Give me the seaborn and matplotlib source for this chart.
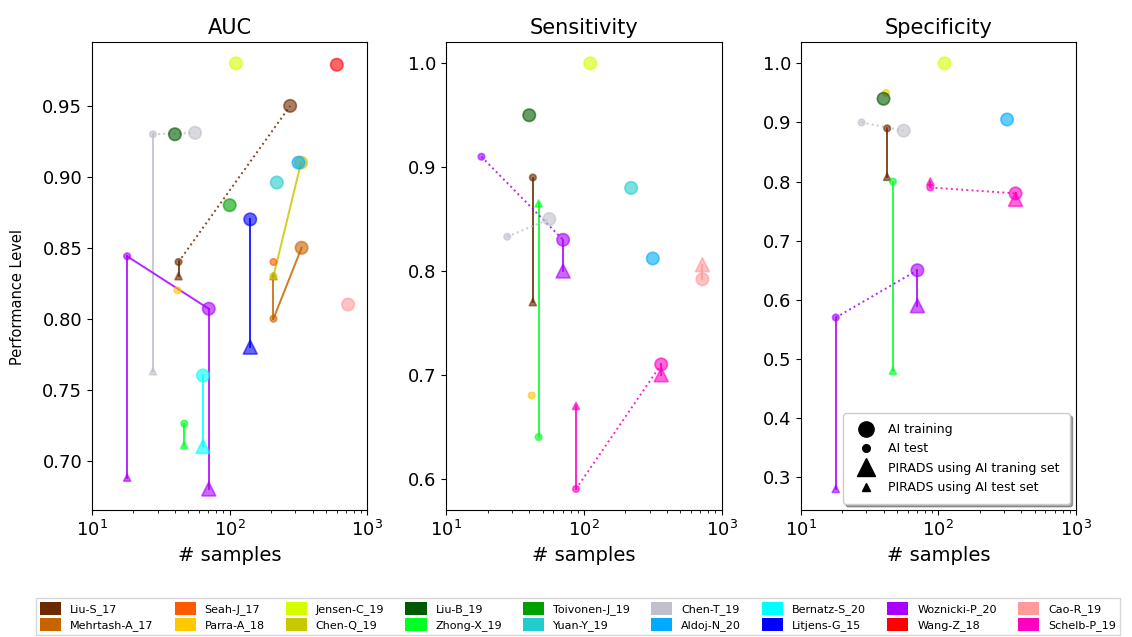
import numpy as np
import pandas as pd
import matplotlib
matplotlib.use('Agg')
import matplotlib.pyplot as plt
import seaborn as sns
from matplotlib.lines import Line2D
from matplotlib.patches import Patch

# studies, legend colours and sample sizes (training / test cohorts)
studies = ['Liu-S_17', 'Mehrtash-A_17', 'Seah-J_17', 'Parra-A_18', 'Jensen-C_19', 'Chen-Q_19',
           'Liu-B_19', 'Zhong-X_19', 'Toivonen-J_19', 'Yuan-Y_19', 'Chen-T_19', 'Aldoj-N_20',
           'Bernatz-S_20', 'Litjens-G_15', 'Woznicki-P_20', 'Wang-Z_18', 'Cao-R_19', 'Schelb-P_19']
colors = ['#6b2a00', '#c86400', '#ff5a00', '#ffc800', '#d4ff00', '#c8c800',
          '#005a00', '#00ff22', '#00a000', '#22cccc', '#c0c0cc', '#00aaff',
          '#00ffff', '#0000ff', '#aa00ff', '#ff0000', '#ff9a9a', '#ff00c0']
n_train = [275, 333, np.nan, np.nan, 111, 330,
           40, np.nan, 100, 220, 56, 316,
           64, 141, 70.5, 600, 725, 364]
n_test = [42.5, 208, 208, 41.7, np.nan, 208,
          np.nan, 46.8, np.nan, np.nan, 27.7, np.nan,
          np.nan, np.nan, 18, np.nan, np.nan, 87.5]

# T = AI training, t = AI test, P = PIRADS on training set, p = PIRADS on test set
auc_pts = [('Liu-S_17', 'T', 0.95), ('Liu-S_17', 't', 0.84), ('Liu-S_17', 'p', 0.83),
           ('Mehrtash-A_17', 'T', 0.85), ('Mehrtash-A_17', 't', 0.80), ('Mehrtash-A_17', 'p', 0.83),
           ('Seah-J_17', 't', 0.84), ('Parra-A_18', 't', 0.82), ('Jensen-C_19', 'T', 0.98),
           ('Chen-Q_19', 'T', 0.91), ('Chen-Q_19', 't', 0.83), ('Liu-B_19', 'T', 0.93),
           ('Zhong-X_19', 't', 0.726), ('Zhong-X_19', 'p', 0.711), ('Toivonen-J_19', 'T', 0.88),
           ('Yuan-Y_19', 'T', 0.896), ('Chen-T_19', 't', 0.93), ('Chen-T_19', 'T', 0.931),
           ('Chen-T_19', 'p', 0.763), ('Aldoj-N_20', 'T', 0.91), ('Bernatz-S_20', 'T', 0.76),
           ('Bernatz-S_20', 'P', 0.71), ('Litjens-G_15', 'T', 0.87), ('Litjens-G_15', 'P', 0.78),
           ('Woznicki-P_20', 't', 0.844), ('Woznicki-P_20', 'p', 0.688), ('Woznicki-P_20', 'T', 0.807),
           ('Woznicki-P_20', 'P', 0.68), ('Wang-Z_18', 'T', 0.979), ('Cao-R_19', 'T', 0.81)]
auc_links = [('Liu-S_17', 't', 'T', ':'), ('Liu-S_17', 't', 'p', '-'),
             ('Mehrtash-A_17', 't', 'T', '-'), ('Mehrtash-A_17', 't', 'p', '-'),
             ('Chen-Q_19', 't', 'T', '-'), ('Zhong-X_19', 't', 'p', '-'),
             ('Chen-T_19', 't', 'T', ':'), ('Chen-T_19', 't', 'p', '-'),
             ('Bernatz-S_20', 'T', 'P', '-'), ('Litjens-G_15', 'T', 'P', '-'),
             ('Woznicki-P_20', 't', 'T', '-'), ('Woznicki-P_20', 't', 'p', '-'),
             ('Woznicki-P_20', 'T', 'P', '-')]

sens_pts = [('Liu-S_17', 't', 0.89), ('Liu-S_17', 'p', 0.77), ('Parra-A_18', 't', 0.68),
            ('Jensen-C_19', 'T', 1.0), ('Liu-B_19', 'T', 0.95), ('Zhong-X_19', 't', 0.64),
            ('Zhong-X_19', 'p', 0.865), ('Yuan-Y_19', 'T', 0.88), ('Chen-T_19', 't', 0.833),
            ('Chen-T_19', 'T', 0.85), ('Aldoj-N_20', 'T', 0.812), ('Woznicki-P_20', 't', 0.91),
            ('Woznicki-P_20', 'T', 0.83), ('Woznicki-P_20', 'P', 0.80), ('Cao-R_19', 'T', 0.792),
            ('Cao-R_19', 'P', 0.806), ('Schelb-P_19', 't', 0.59), ('Schelb-P_19', 'p', 0.67),
            ('Schelb-P_19', 'T', 0.71), ('Schelb-P_19', 'P', 0.70)]
sens_links = [('Liu-S_17', 't', 'p', '-'), ('Zhong-X_19', 't', 'p', '-'),
              ('Chen-T_19', 't', 'T', ':'), ('Woznicki-P_20', 't', 'T', ':'),
              ('Woznicki-P_20', 'T', 'P', '-'), ('Cao-R_19', 'T', 'P', '-'),
              ('Schelb-P_19', 't', 'p', '-'), ('Schelb-P_19', 't', 'T', ':'),
              ('Schelb-P_19', 'T', 'P', '-')]

spec_pts = [('Liu-S_17', 't', 0.89), ('Liu-S_17', 'p', 0.808), ('Parra-A_18', 't', 0.95),
            ('Jensen-C_19', 'T', 1.0), ('Liu-B_19', 'T', 0.94), ('Zhong-X_19', 't', 0.80),
            ('Zhong-X_19', 'p', 0.48), ('Chen-T_19', 't', 0.90), ('Chen-T_19', 'T', 0.886),
            ('Aldoj-N_20', 'T', 0.905), ('Woznicki-P_20', 't', 0.57), ('Woznicki-P_20', 'p', 0.28),
            ('Woznicki-P_20', 'T', 0.65), ('Woznicki-P_20', 'P', 0.59), ('Schelb-P_19', 't', 0.79),
            ('Schelb-P_19', 'p', 0.80), ('Schelb-P_19', 'T', 0.78), ('Schelb-P_19', 'P', 0.77)]
spec_links = [('Liu-S_17', 't', 'p', '-'), ('Zhong-X_19', 't', 'p', '-'),
              ('Chen-T_19', 't', 'T', ':'), ('Woznicki-P_20', 't', 'T', ':'),
              ('Woznicki-P_20', 't', 'p', '-'), ('Woznicki-P_20', 'T', 'P', '-'),
              ('Schelb-P_19', 't', 'T', ':'), ('Schelb-P_19', 't', 'p', '-'),
              ('Schelb-P_19', 'T', 'P', '-')]

kind_names = {'T': 'AI training', 't': 'AI test',
              'P': 'PIRADS using AI traning set', 'p': 'PIRADS using AI test set'}
palette = dict(zip(studies, colors))
ntr = dict(zip(studies, n_train))
nte = dict(zip(studies, n_test))


def make_frame(pts):
    df = pd.DataFrame(pts, columns=['study', 'kind', 'value'])
    df['n'] = [ntr[s] if k in 'TP' else nte[s] for s, k in zip(df.study, df.kind)]
    return df


def draw_panel(ax, pts, links, title):
    df = make_frame(pts)
    for s, a, b, ls in links:
        sub = df[df.study == s].set_index('kind')
        ax.plot([sub.loc[a, 'n'], sub.loc[b, 'n']], [sub.loc[a, 'value'], sub.loc[b, 'value']],
                ls=ls, color=palette[s], lw=1.4, alpha=0.85, zorder=1)
    sns.scatterplot(data=df, x='n', y='value', hue='study', style='kind', size='kind',
                    palette=palette, markers={'T': 'o', 't': 'o', 'P': '^', 'p': '^'},
                    sizes={'T': 80, 't': 22, 'P': 100, 'p': 26}, alpha=0.6,
                    edgecolor='face', linewidth=1.2, legend=False, ax=ax, zorder=2)
    ax.set_xscale('log')
    ax.set_xlim(10, 1000)
    ax.set_title(title, fontsize=15)
    ax.set_xlabel('# samples', fontsize=14)
    ax.set_ylabel('')
    ax.tick_params(labelsize=13)


fig, axes = plt.subplots(1, 3, figsize=(11.32, 6.37), dpi=100)
fig.subplots_adjust(left=0.0813, right=0.9505, top=0.934, bottom=0.199, wspace=0.287)

draw_panel(axes[0], auc_pts, auc_links, 'AUC')
draw_panel(axes[1], sens_pts, sens_links, 'Sensitivity')
draw_panel(axes[2], spec_pts, spec_links, 'Specificity')
axes[0].set_ylabel('Performance Level', fontsize=10.5)
axes[0].yaxis.set_label_coords(-0.245, 0.455)
axes[0].set_yticks([0.70, 0.75, 0.80, 0.85, 0.90, 0.95])

# marker-type legend
mk = [Line2D([], [], marker='o', ls='', color='k', markersize=11),
      Line2D([], [], marker='o', ls='', color='k', markersize=5.5),
      Line2D([], [], marker='^', ls='', color='k', markersize=13),
      Line2D([], [], marker='^', ls='', color='k', markersize=6)]
axes[2].legend(mk, list(kind_names.values()), loc='lower right', fontsize=9,
               shadow=True, borderpad=0.8, labelspacing=0.5)

# study colour legend
handles = [Patch(facecolor=c, edgecolor='none') for c in colors]
fig.legend(handles, studies, loc='lower left', ncol=9, fontsize=8,
           bbox_to_anchor=(0.027, -0.005), frameon=True, fancybox=False,
           handlelength=1.9, handleheight=1.4, columnspacing=1.9, labelspacing=0.25,
           borderpad=0.35)

fig.savefig('out.png', dpi=100)
